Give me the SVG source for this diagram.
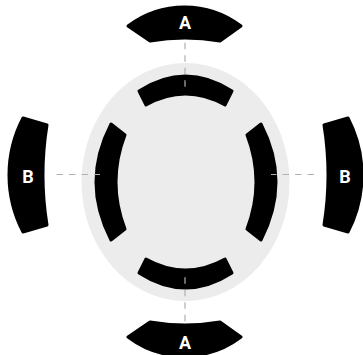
<svg xmlns="http://www.w3.org/2000/svg" width="363" height="355" viewBox="0 0 363 355">
<style>
.blk{fill:#000;stroke:#000;stroke-width:3;stroke-linejoin:round}
.lbl{font-family:Roboto,"Liberation Sans",Arial,sans-serif;font-weight:bold;font-size:18px;fill:#fff;text-anchor:middle}
.dash{stroke:#b0b0b0;stroke-width:1.2;stroke-dasharray:6.5 6;fill:none}
</style>
<rect width="363" height="355" fill="#fff"/>
<g id="body">
<ellipse cx="185.5" cy="182" rx="104" ry="119" fill="#ececec"/>
</g>
<g id="inner-top"><path class="blk" d="M139,91 Q185.5,61 232,91 L225,105 Q185.5,83 146,105 Z"/></g>
<g id="inner-bottom"><path class="blk" d="M139,273 Q185.5,303 232,273 L225,259 Q185.5,281 146,259 Z"/></g>
<g id="inner-left"><path class="blk" d="M111,124 Q81,182 111,240 L125,229 Q107,182 125,135 Z"/></g>
<g id="inner-right"><path class="blk" d="M261,124 Q291,182 261,240 L247,229 Q265,182 247,135 Z"/></g>
<g id="A-top"><path class="blk" d="M128,26 A93.5,93.5 0 0 1 241,26 L220,41 A205.7,205.7 0 0 0 150,41 Z"/><text class="lbl" x="185" y="28.5">A</text></g>
<g id="A-bottom"><path class="blk" d="M128,337 A93.5,93.5 0 0 0 241,337 L220,322 A205.7,205.7 0 0 1 150,322 Z"/><text class="lbl" x="185" y="348.5">A</text></g>
<g id="B-left"><path class="blk" d="M23,118 A123,123 0 0 0 23,232 L47,225 A314.5,314.5 0 0 1 47,125 Z"/><text class="lbl" x="28" y="182.5">B</text></g>
<g id="B-right"><path class="blk" d="M348,118 A123,123 0 0 1 348,232 L324,225 A314.5,314.5 0 0 0 324,125 Z"/><text class="lbl" x="345" y="182.5">B</text></g>
<g id="connectors">
<line class="dash" x1="185" y1="42.7" x2="185" y2="87.3"/>
<line class="dash" x1="185" y1="321.3" x2="185" y2="276.7"/>
<line class="dash" x1="56.5" y1="174.5" x2="100" y2="174.5"/>
<line class="dash" x1="314" y1="174.5" x2="271" y2="174.5"/>
</g>
</svg>
